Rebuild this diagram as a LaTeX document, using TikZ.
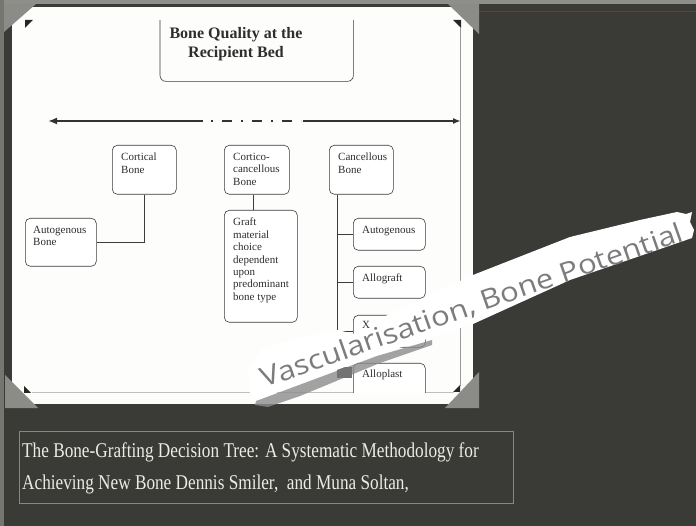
\documentclass[tikz,border=0pt]{standalone}
\usepackage{fontspec}
\setmainfont{Liberation Serif}
\newfontfamily\capfont[FakeStretch=0.82]{Liberation Serif}
\newfontfamily\handfont[FakeStretch=1.15]{Open Sans}
\usetikzlibrary{arrows.meta}
\definecolor{bgC}{HTML}{3A3B37}
\definecolor{topC}{HTML}{8E8F8B}
\definecolor{leftC}{HTML}{75766F}
\definecolor{paperC}{HTML}{FDFDFB}
\definecolor{mountC}{HTML}{8B8B88}
\definecolor{lineC}{HTML}{3C3C3C}
\definecolor{txtC}{HTML}{2E2E2E}
\definecolor{capC}{HTML}{ECECE4}
\definecolor{capLine}{HTML}{858A80}
\definecolor{handC}{HTML}{7C7C7C}
\definecolor{redC}{HTML}{5A423C}
\begin{document}
\begin{tikzpicture}[x=1pt,y=-1pt,
  box/.style={draw=lineC, line width=0.6pt, rounded corners=5pt, fill=white, inner sep=0pt, anchor=north west},
  lbl/.style={anchor=north west, inner sep=0pt, align=left, text=txtC, font=\fontsize{11}{12.4}\selectfont},
  conn/.style={draw=lineC, line width=0.6pt},
  mount/.style={fill=mountC},
  tick/.style={fill=black!85},
  arr/.style={draw=black!80, line width=1.8pt},
  captxt/.style={anchor=base west, inner sep=0pt, text=capC, font=\capfont\fontsize{21}{32}\selectfont}]
\useasboundingbox (0,0) rectangle (696,526);
% background
\fill[bgC] (0,0) rectangle (696,526);
\fill[topC] (0,0) rectangle (696,4);
\fill[leftC] (0,0) rectangle (4,526);
\draw[redC, line width=0.6pt] (476,11) -- (696,11);
% photo paper
\fill[paperC] (12,7) rectangle (473,404);
% page edges inside photo
\draw[black!40, line width=0.5pt] (460,28) -- (460,386);
\draw[black!25, line width=0.4pt] (32,392) -- (454,392);
% corner ticks
\fill[tick] (25,20) -- (33,20) -- (25,28) -- cycle;
\fill[tick] (453,20) -- (461,20) -- (461,28) -- cycle;
\fill[tick] (24,386) -- (24,393) -- (31,393) -- cycle;
\fill[tick] (460,385) -- (460,392) -- (453,392) -- cycle;
% corner mounts
\fill[mount] (4,4) -- (36,4) -- (4,32) -- cycle;
\fill[mount] (448,4) -- (479,4) -- (479,34) -- cycle;
\fill[mount] (5,375) -- (5,408) -- (38,408) -- cycle;
\fill[mount] (445,408) -- (479,372) -- (479,408) -- cycle;

% title
\node[anchor=north west, minimum width=193pt, minimum height=61pt, inner sep=0pt] (titlebox) at (160,20) {};
\draw[lineC, line width=0.6pt, rounded corners=6pt] (titlebox.north west) -- (titlebox.south west) -- (titlebox.south east) -- (titlebox.north east);
\node[anchor=north, align=center, inner sep=0pt, text=txtC, font=\bfseries\fontsize{16}{19}\selectfont] (title) at (236,27) {Bone Quality at the\\Recipient Bed};

% arrow
\coordinate (aL) at (48,121);
\coordinate (aR) at (461,121);
\coordinate (m1) at (203,121);
\coordinate (m2) at (303,121);
\coordinate (d1) at (211,121);
\coordinate (d2) at (301,121);
\draw[arr, {Latex[length=9pt,width=7pt]}-] (aL) -- (m1);
\draw[arr, -{Latex[length=8pt,width=6pt]}] (m2) -- (aR);
\draw[arr, dash pattern=on 2pt off 9pt on 10pt off 9pt] (d1) -- (d2);

% boxes
\node[box, minimum width=64pt, minimum height=49pt] (cort) at (112,145) {};
\node[box, minimum width=65pt, minimum height=49pt] (cc) at (224,145) {};
\node[box, minimum width=64pt, minimum height=49pt] (canc) at (329,145) {};
\node[box, minimum width=71pt, minimum height=48pt] (autob) at (25,218) {};
\node[box, minimum width=73pt, minimum height=112pt] (graft) at (224,210) {};
\node[box, minimum width=72pt, minimum height=32pt] (auto2) at (353,218) {};
\node[box, minimum width=72pt, minimum height=32pt] (allo) at (353,266) {};
\node[box, minimum width=72pt, minimum height=32pt] (xeno) at (353,315) {};
\begin{scope}
\clip (300,300) rectangle (460,393);
\node[box, minimum width=72pt, minimum height=45pt] (allop) at (353,363) {};
\end{scope}

\node[lbl] (cortT) at ([shift={(9,8)}]cort.north west) {Cortical\\Bone};
\node[lbl] (ccT) at ([shift={(9,8)}]cc.north west) {Cortico-\\cancellous\\Bone};
\node[lbl] (cancT) at ([shift={(9,8)}]canc.north west) {Cancellous\\Bone};
\node[lbl] (autobT) at ([shift={(8,8)}]autob.north west) {Autogenous\\Bone};
\node[lbl] (graftT) at ([shift={(9,8)}]graft.north west) {Graft\\material\\choice\\dependent\\upon\\predominant\\bone type};
\node[lbl] (auto2T) at ([shift={(9,8)}]auto2.north west) {Autogenous};
\node[lbl] (alloT) at ([shift={(9,8)}]allo.north west) {Allograft};
\node[lbl] (xenoT) at ([shift={(9,6)}]xeno.north west) {X};
\node[lbl] (allopT) at ([shift={(9,7)}]allop.north west) {Alloplast};

% connectors
\draw[conn] (cort.south) |- (autob.east);
\coordinate (ccdown) at ([xshift=-4pt]cc.south);
\draw[conn] (ccdown) -- (ccdown |- graft.north);
\coordinate (cdown) at ([xshift=8pt]canc.south west);
\draw[conn] (cdown) -- (cdown |- xeno.west);
\draw[conn] (cdown |- auto2.west) -- (auto2.west);
\draw[conn] (cdown |- allo.west) -- (allo.west);
\draw[conn] (cdown |- xeno.west) -- (xeno.west);

% tape strip
\fill[black!45, opacity=0.8] (256,401) -- (283,391) -- (377,356) -- (432,340) -- (432,345) -- (380,363) -- (300,396) -- (268,407) -- (255,405) -- cycle;
\fill[black!55] (337,367) rectangle (352,378);
\fill[white] (248,372) -- (262,348) -- (300,338) -- (337,330) -- (355,334) -- (372,332) -- (387,315) -- (473,275) -- (570,237) -- (640,220) -- (677,212) -- (686,214) -- (692,212) -- (690,222) -- (694,230) -- (692,238) -- (637,257) -- (570,280) -- (473,324) -- (377,355) -- (283,390) -- (258,400) -- (250,394) -- cycle;
\node[anchor=base west, inner sep=0pt, rotate=19.3, text=handC, font=\handfont\fontsize{27}{27}\selectfont] (hand) at (264,388) {Vascularisation, Bone Potential};

% caption
\draw[capLine, line width=0.9pt] (19,431) rectangle (513,503);
\node[captxt] (cap1) at (22,457) {The Bone-Grafting Decision Tree: A Systematic Methodology for};
\node[captxt] (cap2) at (22,489) {Achieving New Bone Dennis Smiler,\ \ and Muna Soltan,};
\end{tikzpicture}
\end{document}
